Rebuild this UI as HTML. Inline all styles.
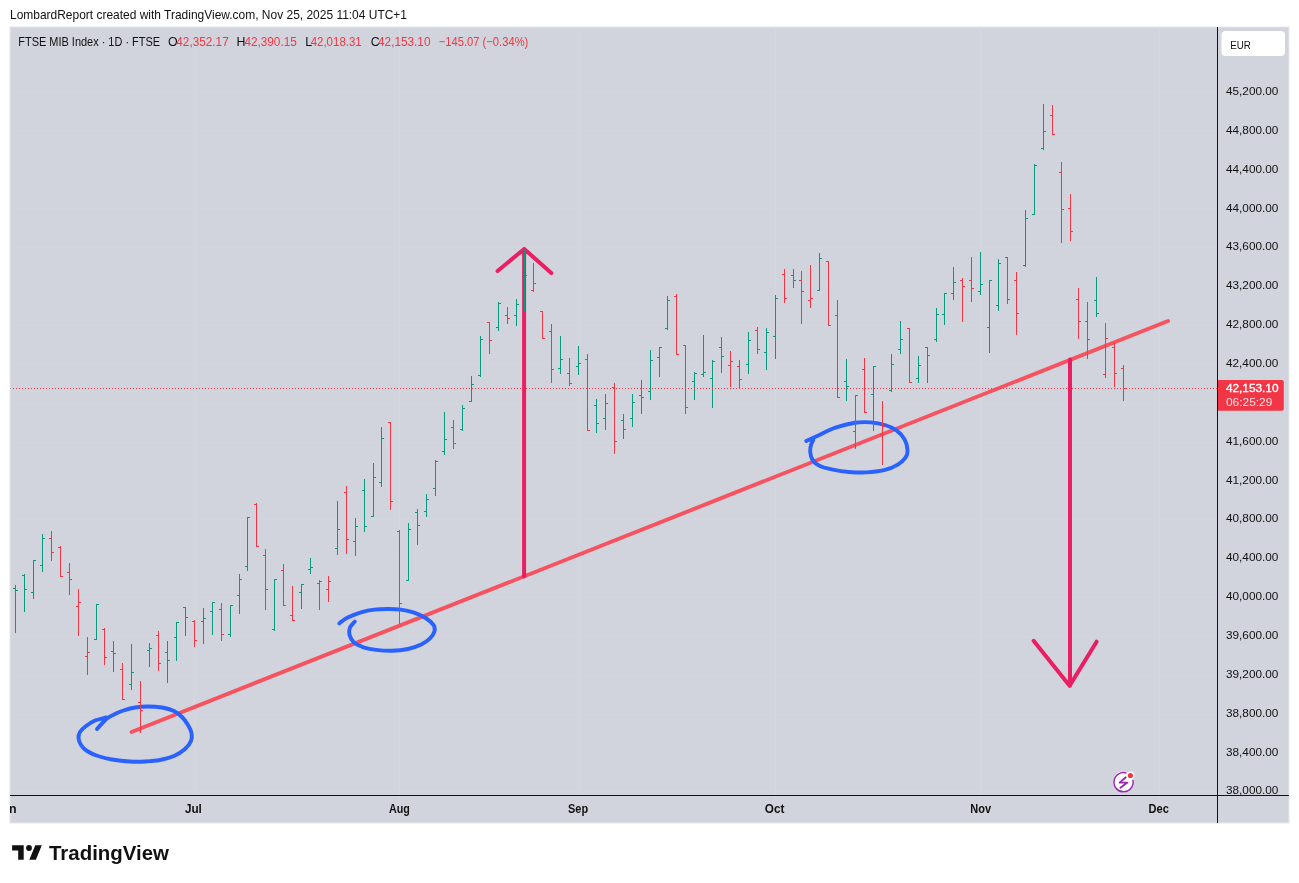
<!DOCTYPE html>
<html><head><meta charset="utf-8"><title>FTSE MIB Index chart</title>
<style>
html,body{margin:0;padding:0;background:#fff;}
body{width:1299px;height:883px;overflow:hidden;position:relative;}
svg{position:absolute;left:0;top:0;display:block;}
text{font-family:"Liberation Sans",Arial,sans-serif;}
</style></head>
<body>
<svg width="1299" height="883" viewBox="0 0 1299 883">
<defs>
<clipPath id="pane"><rect x="10" y="27" width="1207" height="768"/></clipPath>
<clipPath id="taxis"><rect x="10" y="796" width="1207" height="27"/></clipPath>
</defs>
<!-- header -->
<text x="10" y="19.4" font-size="12.7" fill="#111111" textLength="397" lengthAdjust="spacingAndGlyphs">LombardReport created with TradingView.com, Nov 25, 2025 11:04 UTC+1</text>
<!-- chart background -->
<rect x="9" y="26" width="1281" height="798" fill="#f2f3f5"/>
<rect x="10" y="27" width="1279" height="796" fill="#dcdee3"/>
<rect x="11" y="28" width="1277" height="794" fill="#d1d4dc"/>
<g clip-path="url(#pane)">
<path d="M10 91.5H1217M10 130.5H1217M10 169.5H1217M10 208.5H1217M10 247.5H1217M10 286.5H1217M10 325.5H1217M10 364.5H1217M10 403.5H1217M10 442.5H1217M10 481.5H1217M10 519.5H1217M10 558.5H1217M10 597.5H1217M10 636.5H1217M10 675.5H1217M10 714.5H1217M10 753.5H1217M10 791.5H1217" stroke="#d3d6de" stroke-width="1" fill="none"/><path d="M194.5 27V795M399.5 27V795M578.5 27V795M775.5 27V795M980.5 27V795M1159.5 27V795" stroke="#d5d8df" stroke-width="1" fill="none"/>
<path d="M131.6 732L1168 321" stroke="#F7525F" stroke-width="3.9" stroke-linecap="round" fill="none"/>
<path d="M106.0 717.5C104.2 718.0 98.3 719.1 95.0 720.5C91.7 721.9 88.5 724.1 86.0 726.0C83.5 727.9 81.2 730.0 80.0 732.0C78.8 734.0 78.3 735.8 78.5 738.0C78.7 740.2 79.6 742.8 81.0 745.0C82.4 747.2 84.2 749.2 87.0 751.0C89.8 752.8 93.8 754.6 98.0 756.0C102.2 757.4 106.7 758.6 112.0 759.5C117.3 760.4 124.5 761.2 130.0 761.5C135.5 761.8 140.0 761.8 145.0 761.5C150.0 761.2 155.2 760.9 160.0 760.0C164.8 759.1 169.8 757.8 174.0 756.0C178.2 754.2 182.2 751.5 185.0 749.0C187.8 746.5 189.9 743.7 191.0 741.0C192.1 738.3 192.0 735.7 191.5 733.0C191.0 730.3 189.6 727.7 188.0 725.0C186.4 722.3 184.3 719.3 182.0 717.0C179.7 714.7 177.3 712.6 174.0 711.0C170.7 709.4 166.3 708.2 162.0 707.5C157.7 706.8 152.5 706.5 148.0 706.5C143.5 706.5 139.3 706.8 135.0 707.5C130.7 708.2 125.8 709.7 122.0 711.0C118.2 712.3 114.5 714.2 112.0 715.5C109.5 716.8 108.7 717.2 107.0 718.5C105.3 719.8 103.7 721.8 102.0 723.5C100.3 725.2 97.8 728.1 97.0 729.0" stroke="#2962FF" stroke-width="3.9" stroke-linecap="round" stroke-linejoin="round" fill="none"/>
<path d="M339.3 623.3C340.7 622.3 344.1 619.4 347.7 617.6C351.3 615.8 356.6 613.6 361.0 612.3C365.4 611.0 369.9 610.1 374.3 609.6C378.7 609.1 383.1 609.0 387.5 609.0C391.9 609.0 396.4 609.0 400.8 609.6C405.2 610.2 410.0 611.3 414.1 612.7C418.2 614.1 422.4 615.9 425.6 618.0C428.9 620.1 432.1 622.9 433.6 625.1C435.1 627.3 435.1 629.1 434.5 631.3C433.9 633.5 432.2 636.2 430.0 638.4C427.8 640.6 424.9 642.8 421.2 644.6C417.5 646.4 412.8 648.0 407.9 649.0C403.0 650.0 397.3 650.6 392.0 650.8C386.7 650.9 380.7 650.5 376.0 649.9C371.3 649.3 367.3 648.5 363.6 647.3C359.9 646.0 356.2 644.5 353.9 642.4C351.5 640.3 350.2 637.3 349.5 634.9C348.8 632.5 349.0 630.0 349.9 627.8C350.8 625.6 354.0 622.6 354.8 621.6" stroke="#2962FF" stroke-width="3.9" stroke-linecap="round" stroke-linejoin="round" fill="none"/>
<path d="M806.2 441.0C808.1 440.1 812.8 437.9 817.7 435.7C822.6 433.5 829.2 429.8 835.4 427.7C841.6 425.6 849.0 423.7 854.9 422.8C860.8 421.9 865.8 422.0 870.8 422.4C875.8 422.8 880.7 423.7 885.0 425.0C889.3 426.3 893.2 428.0 896.5 430.4C899.8 432.8 902.6 435.8 904.5 439.2C906.4 442.6 907.5 447.6 907.6 450.7C907.7 453.8 907.0 455.4 905.3 457.8C903.6 460.2 900.9 462.8 897.4 464.9C893.9 467.0 889.3 468.9 884.1 470.2C878.9 471.4 872.3 472.1 866.4 472.4C860.5 472.7 854.3 472.4 848.7 472.0C843.1 471.6 837.7 470.7 832.8 469.7C827.9 468.7 822.9 467.5 819.5 465.8C816.1 464.1 813.9 462.0 812.4 459.6C810.9 457.2 810.4 454.1 810.2 451.6C810.0 449.1 810.6 446.4 811.1 444.5C811.6 442.6 812.9 440.8 813.3 440.1" stroke="#2962FF" stroke-width="3.9" stroke-linecap="round" stroke-linejoin="round" fill="none"/>
<path d="M524.1 576.6V249M497.6 271L524.2 249L551.3 273.1" stroke="#E91E63" stroke-width="4" stroke-linecap="round" stroke-linejoin="round" fill="none"/>
<path d="M1070 359.6V685.8M1033.6 640.8L1069.6 685.8L1096.6 641.7" stroke="#E91E63" stroke-width="4" stroke-linecap="round" stroke-linejoin="round" fill="none"/>

<path d="M15.5 585V633M13 588.5H15M16 590.5H18M24.5 574V612M22 575.5H24M25 589.5H27M33.5 560V599M31 592.5H33M34 560.5H36M42.5 534V572M40 565.5H42M43 538.5H45M96.5 604V640M94 639.5H96M97 604.5H99M113.5 641V672M111 651.5H113M114 653.5H116M131.5 644V690M129 684.5H131M132 672.5H134M149.5 643V667M147 650.5H149M150 648.5H152M167.5 641V683M165 652.5H167M168 660.5H170M176.5 622V661M174 637.5H176M177 622.5H179M185.5 607V636M183 607.5H185M186 617.5H188M203.5 608V644M201 621.5H203M204 618.5H206M212.5 602V635M210 611.5H212M213 602.5H215M230.5 605V637M228 634.5H230M231 605.5H233M239.5 574V614M237 595.5H239M240 579.5H242M247.5 517V571M245 566.5H247M248 517.5H250M274.5 579V631M272 629.5H274M275 579.5H277M301.5 584V609M299 592.5H301M302 584.5H304M310.5 558V574M308 569.5H310M311 567.5H313M337.5 501V555M335 548.5H337M338 529.5H340M355.5 518V556M353 541.5H355M356 526.5H358M364.5 479V532M362 490.5H364M365 526.5H367M373.5 463V517M371 516.5H373M374 477.5H376M381.5 427V487M379 482.5H381M382 438.5H384M408.5 523V581M406 580.5H408M409 529.5H411M417.5 509V545M415 512.5H417M418 525.5H420M426.5 494V517M424 511.5H426M427 499.5H429M435.5 460V496M433 488.5H435M436 461.5H438M444.5 412V455M442 451.5H444M445 439.5H447M462.5 405V431M460 429.5H462M463 408.5H465M471.5 376V402M469 401.5H471M472 384.5H474M480.5 336V377M478 375.5H480M481 339.5H483M498.5 302V331M496 327.5H498M499 303.5H501M516.5 299V326M514 315.5H516M517 304.5H519M524.5 250V312M522 311.5H524M525 275.5H527M560.5 336V374M558 368.5H560M561 359.5H563M578.5 346V375M576 366.5H578M579 363.5H581M596.5 399V433M594 405.5H596M597 423.5H599M605.5 394V430M603 418.5H605M606 403.5H608M623.5 414V439M621 420.5H623M624 429.5H626M632.5 394V427M630 418.5H632M633 402.5H635M641.5 380V414M639 395.5H641M642 397.5H644M650.5 350V400M648 391.5H650M651 360.5H653M659.5 347V377M657 357.5H659M660 347.5H662M667.5 296V330M665 328.5H667M668 300.5H670M694.5 372V400M692 381.5H694M695 373.5H697M703.5 335V377M701 374.5H703M704 372.5H706M712.5 360V408M710 378.5H712M713 361.5H715M721.5 337V373M719 347.5H721M722 356.5H724M748.5 332V374M746 364.5H748M749 340.5H751M766.5 328V370M764 352.5H766M767 332.5H769M775.5 295V359M773 336.5H775M776 298.5H778M793.5 269V288M791 275.5H793M794 280.5H796M819.5 253V291M817 290.5H819M820 258.5H822M846.5 359V401M844 381.5H846M847 386.5H849M873.5 366V431M871 394.5H873M874 366.5H876M891.5 354V392M889 390.5H891M892 364.5H894M900.5 321V354M898 349.5H900M901 339.5H903M918.5 356V383M916 378.5H918M919 365.5H921M927.5 347V383M925 347.5H927M928 355.5H930M936.5 308V342M934 339.5H936M937 314.5H939M944.5 293V325M942 314.5H944M945 293.5H947M953.5 267V300M951 293.5H953M954 282.5H956M980.5 252V295M978 291.5H980M981 284.5H983M989.5 280V353M987 327.5H989M990 280.5H992M998.5 259V311M996 305.5H998M999 263.5H1001M1025.5 210V267M1023 265.5H1025M1026 218.5H1028M1034.5 164V215M1032 214.5H1034M1035 165.5H1037M1043.5 104V150M1041 148.5H1043M1044 131.5H1046M1096.5 277V317M1094 300.5H1096M1097 313.5H1099" stroke="#089981" stroke-width="1" fill="none"/>
<path d="M51.5 531V561M49 538.5H51M52 552.5H54M60.5 546V577M58 547.5H60M61 576.5H63M69.5 563V595M67 572.5H69M70 579.5H72M78.5 589V636M76 606.5H78M79 602.5H81M87.5 637V675M85 656.5H87M88 652.5H90M104.5 628V665M102 629.5H104M105 657.5H107M122.5 663V700M120 669.5H122M123 699.5H125M140.5 681V733M138 702.5H140M141 710.5H143M158.5 631V671M156 635.5H158M159 663.5H161M194.5 620V647M192 621.5H194M195 640.5H197M221.5 603V641M219 609.5H221M222 634.5H224M256.5 503V547M254 504.5H256M257 546.5H259M265.5 549V610M263 555.5H265M266 589.5H268M283.5 564V606M281 570.5H283M284 605.5H286M292.5 586V621M290 615.5H292M293 620.5H295M319.5 580V610M317 583.5H319M320 581.5H322M328.5 576V602M326 589.5H328M329 581.5H331M346.5 486V554M344 492.5H346M347 539.5H349M390.5 422V510M388 422.5H390M391 501.5H393M399.5 530V624M397 531.5H399M400 603.5H402M453.5 420V449M451 427.5H453M454 443.5H456M489.5 322V354M487 322.5H489M490 340.5H492M507.5 307V324M505 315.5H507M508 318.5H510M533.5 263V292M531 290.5H533M534 283.5H536M542.5 311V339M540 311.5H542M543 338.5H545M551.5 324V383M549 331.5H551M552 369.5H554M569.5 358V386M567 373.5H569M570 383.5H572M587.5 354V431M585 359.5H587M588 430.5H590M614.5 383V454M612 387.5H614M615 441.5H617M676.5 294V355M674 296.5H676M677 354.5H679M685.5 345V414M683 345.5H685M686 407.5H688M730.5 351V387M728 365.5H730M731 361.5H733M739.5 360V389M737 366.5H739M740 379.5H742M757.5 327V354M755 330.5H757M758 349.5H760M784.5 269V303M782 274.5H784M785 298.5H787M801.5 271V324M799 280.5H801M802 291.5H804M810.5 265V308M808 300.5H810M811 298.5H813M828.5 261V326M826 261.5H828M829 325.5H831M837.5 300V398M835 315.5H837M838 397.5H840M855.5 395V449M853 431.5H855M856 395.5H858M864.5 358V413M862 369.5H864M865 412.5H867M882.5 401V465M880 434.5H882M883 426.5H885M909.5 328V383M907 328.5H909M910 382.5H912M962.5 278V322M960 280.5H962M963 286.5H965M971.5 257V302M969 280.5H971M972 288.5H974M1007.5 257V304M1005 257.5H1007M1008 299.5H1010M1016.5 272V335M1014 280.5H1016M1017 313.5H1019M1052.5 105V135M1050 115.5H1052M1053 134.5H1055M1061.5 162V243M1059 172.5H1061M1062 209.5H1064M1070.5 194V241M1068 208.5H1070M1071 231.5H1073M1078.5 288V339M1076 299.5H1078M1079 321.5H1081M1087.5 302V359M1085 321.5H1087M1088 339.5H1090M1105.5 323V378M1103 374.5H1105M1106 338.5H1108M1114.5 342V387M1112 347.5H1114M1115 373.5H1117M1123.5 365V401M1121 368.5H1123M1124 388.5H1126" stroke="#F23645" stroke-width="1" fill="none"/>

<!-- price line -->
<path d="M13 388.5H1217" stroke="#F23645" stroke-width="1" stroke-dasharray="1 2" fill="none"/>
<rect x="10" y="388" width="1" height="1" fill="#F23645" fill-opacity="0.5"/>
</g>
<!-- legend -->
<g font-size="12.4">
<text x="18.3" y="46.2" fill="#111111" textLength="141.8" lengthAdjust="spacingAndGlyphs">FTSE MIB Index · 1D · FTSE</text>
<text x="168" y="46.2" fill="#111111">O</text>
<text x="176.3" y="46.2" fill="#F23645" textLength="52.4" lengthAdjust="spacingAndGlyphs">42,352.17</text>
<text x="236.6" y="46.2" fill="#111111">H</text>
<text x="244.4" y="46.2" fill="#F23645" textLength="52.4" lengthAdjust="spacingAndGlyphs">42,390.15</text>
<text x="305.2" y="46.2" fill="#111111">L</text>
<text x="310.7" y="46.2" fill="#F23645" textLength="51" lengthAdjust="spacingAndGlyphs">42,018.31</text>
<text x="370.8" y="46.2" fill="#111111">C</text>
<text x="378" y="46.2" fill="#F23645" textLength="52.5" lengthAdjust="spacingAndGlyphs">42,153.10</text>
<text x="438.8" y="46.2" fill="#F23645" textLength="89.5" lengthAdjust="spacingAndGlyphs">−145.07 (−0.34%)</text>
</g>
<!-- axes lines -->
<rect x="1217" y="27" width="1" height="796" fill="#111111"/>
<rect x="10" y="795" width="1279" height="1" fill="#111111"/>
<!-- EUR box -->
<rect x="1221.5" y="31" width="63.5" height="25" rx="4" fill="#ffffff"/>
<text x="1230.3" y="48.6" font-size="11.3" fill="#111111" textLength="20.6" lengthAdjust="spacingAndGlyphs">EUR</text>
<!-- price labels -->
<g font-size="11" fill="#111111">
<text x="1226" y="794.3" textLength="52.4" lengthAdjust="spacingAndGlyphs">38,000.00</text><text x="1226" y="755.5" textLength="52.4" lengthAdjust="spacingAndGlyphs">38,400.00</text><text x="1226" y="716.6" textLength="52.4" lengthAdjust="spacingAndGlyphs">38,800.00</text><text x="1226" y="677.8" textLength="52.4" lengthAdjust="spacingAndGlyphs">39,200.00</text><text x="1226" y="638.9" textLength="52.4" lengthAdjust="spacingAndGlyphs">39,600.00</text><text x="1226" y="600.0" textLength="52.4" lengthAdjust="spacingAndGlyphs">40,000.00</text><text x="1226" y="561.2" textLength="52.4" lengthAdjust="spacingAndGlyphs">40,400.00</text><text x="1226" y="522.4" textLength="52.4" lengthAdjust="spacingAndGlyphs">40,800.00</text><text x="1226" y="483.5" textLength="52.4" lengthAdjust="spacingAndGlyphs">41,200.00</text><text x="1226" y="444.7" textLength="52.4" lengthAdjust="spacingAndGlyphs">41,600.00</text><text x="1226" y="405.8" textLength="52.4" lengthAdjust="spacingAndGlyphs">42,000.00</text><text x="1226" y="366.9" textLength="52.4" lengthAdjust="spacingAndGlyphs">42,400.00</text><text x="1226" y="328.1" textLength="52.4" lengthAdjust="spacingAndGlyphs">42,800.00</text><text x="1226" y="289.2" textLength="52.4" lengthAdjust="spacingAndGlyphs">43,200.00</text><text x="1226" y="250.4" textLength="52.4" lengthAdjust="spacingAndGlyphs">43,600.00</text><text x="1226" y="211.6" textLength="52.4" lengthAdjust="spacingAndGlyphs">44,000.00</text><text x="1226" y="172.7" textLength="52.4" lengthAdjust="spacingAndGlyphs">44,400.00</text><text x="1226" y="133.8" textLength="52.4" lengthAdjust="spacingAndGlyphs">44,800.00</text><text x="1226" y="95.0" textLength="52.4" lengthAdjust="spacingAndGlyphs">45,200.00</text>
</g>
<!-- last price label -->
<path d="M1218 380H1281.8A2 2 0 0 1 1283.8 382V408.8A2 2 0 0 1 1281.8 410.8H1218Z" fill="#F23645"/>
<text x="1225.9" y="392.1" font-size="11.5" fill="#ffffff" stroke="#ffffff" stroke-width="0.35" textLength="52.6" lengthAdjust="spacingAndGlyphs">42,153.10</text>
<text x="1225.9" y="405.8" font-size="11.5" fill="#ffffff" fill-opacity="0.85" textLength="46.5" lengthAdjust="spacingAndGlyphs">06:25:29</text>
<!-- time labels -->
<g font-size="12.4" font-weight="bold" fill="#111111">
<text x="16.5" y="812.9" text-anchor="end" clip-path="url(#taxis)">Jun</text>
<text x="184.9" y="812.9" textLength="17" lengthAdjust="spacingAndGlyphs">Jul</text>
<text x="389" y="812.9" textLength="20.8" lengthAdjust="spacingAndGlyphs">Aug</text>
<text x="568" y="812.9" textLength="20.1" lengthAdjust="spacingAndGlyphs">Sep</text>
<text x="764.8" y="812.9" textLength="19.6" lengthAdjust="spacingAndGlyphs">Oct</text>
<text x="970.3" y="812.9" textLength="20.8" lengthAdjust="spacingAndGlyphs">Nov</text>
<text x="1148.6" y="812.9" textLength="20.3" lengthAdjust="spacingAndGlyphs">Dec</text>
</g>
<!-- lightning icon -->
<g>
<circle cx="1123.5" cy="782.2" r="10.6" fill="#ffffff"/>
<path d="M1126.5 773.1A9.6 9.6 0 1 0 1132.8 779.7" stroke="#9C27B0" stroke-width="1.5" fill="none"/>
<path d="M1125.8 777.3L1119.6 782.6H1127.4L1120.4 787.8" stroke="#9C27B0" stroke-width="1.9" fill="none" stroke-linejoin="round" stroke-linecap="round"/>
<circle cx="1130.4" cy="775.5" r="4" fill="#ffffff"/>
<circle cx="1130.4" cy="775.5" r="2.6" fill="#F23645"/>
</g>
<!-- TradingView logo -->
<g fill="#111111">
<path d="M12.1 845.2H23.7V859.7H18.2V850.5H12.1Z"/>
<circle cx="29" cy="848" r="2.9"/>
<path d="M35.3 845.2H41.8L35.9 859.7H29.3Z"/>
<text x="49" y="860" font-size="20" font-weight="bold" textLength="120" lengthAdjust="spacingAndGlyphs">TradingView</text>
</g>
</svg>
</body></html>
